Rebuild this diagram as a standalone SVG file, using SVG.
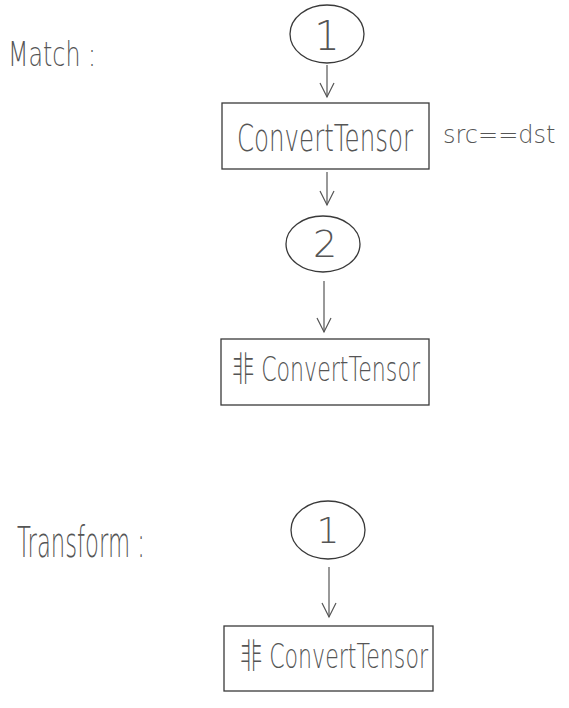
<svg xmlns="http://www.w3.org/2000/svg" width="569" height="708" viewBox="0 0 569 708">
  <defs>
    <style>
      .shape { fill: none; stroke: #3a3a3a; stroke-width: 1.3; }
      .conn { fill: none; stroke: #555; stroke-width: 1.2; }
      .hand { font-family: "DejaVu Sans", "Noto Sans CJK SC", sans-serif; font-weight: 200; fill: #555; }
    </style>
    <marker id="vhead" viewBox="0 0 20 20" refX="18" refY="10" markerWidth="20" markerHeight="20" markerUnits="userSpaceOnUse" orient="auto">
      <path d="M4,3 L18,10 L4,17" fill="none" stroke="#555" stroke-width="1.2"/>
    </marker>
  </defs>
  <rect width="569" height="708" fill="#ffffff"/>

  <g id="label-match">
    <text class="hand" x="8" y="66" font-size="34" textLength="88" lengthAdjust="spacingAndGlyphs">Match :</text>
  </g>
  <g id="label-transform">
    <text class="hand" x="17" y="557" font-size="42" textLength="128" lengthAdjust="spacingAndGlyphs">Transform :</text>
  </g>

  <g id="node-m1">
    <ellipse class="shape" cx="327" cy="34" rx="37" ry="29"/>
    <text class="hand" x="327" y="50" font-size="40" text-anchor="middle">1</text>
  </g>
  <g id="node-m-convert">
    <rect class="shape" x="222" y="103" width="207" height="66"/>
    <text class="hand" x="237" y="151" font-size="38" textLength="176" lengthAdjust="spacingAndGlyphs">ConvertTensor</text>
  </g>
  <g id="label-cond">
    <text class="hand" x="443" y="143" font-size="24">src==dst</text>
  </g>
  <g id="node-m2">
    <ellipse class="shape" cx="323" cy="244" rx="37" ry="28"/>
    <text class="hand" x="325" y="257" font-size="38" text-anchor="middle">2</text>
  </g>
  <g id="node-m-nonconvert">
    <rect class="shape" x="221" y="339" width="208" height="66"/>
    <text class="hand" x="232" y="381" font-size="34" textLength="188" lengthAdjust="spacingAndGlyphs">非 ConvertTensor</text>
  </g>

  <g id="node-t1">
    <ellipse class="shape" cx="328" cy="530" rx="37" ry="29"/>
    <text class="hand" x="328" y="543" font-size="36" text-anchor="middle">1</text>
  </g>
  <g id="node-t-nonconvert">
    <rect class="shape" x="224" y="626" width="209" height="65"/>
    <text class="hand" x="240" y="668" font-size="34" textLength="188" lengthAdjust="spacingAndGlyphs">非 ConvertTensor</text>
  </g>

  <g id="connectors">
    <line class="conn" x1="327" y1="65" x2="327" y2="97" marker-end="url(#vhead)"/>
    <line class="conn" x1="327" y1="172" x2="327" y2="205" marker-end="url(#vhead)"/>
    <line class="conn" x1="324" y1="281" x2="324" y2="332" marker-end="url(#vhead)"/>
    <line class="conn" x1="329" y1="567" x2="329" y2="617" marker-end="url(#vhead)"/>
  </g>
</svg>
